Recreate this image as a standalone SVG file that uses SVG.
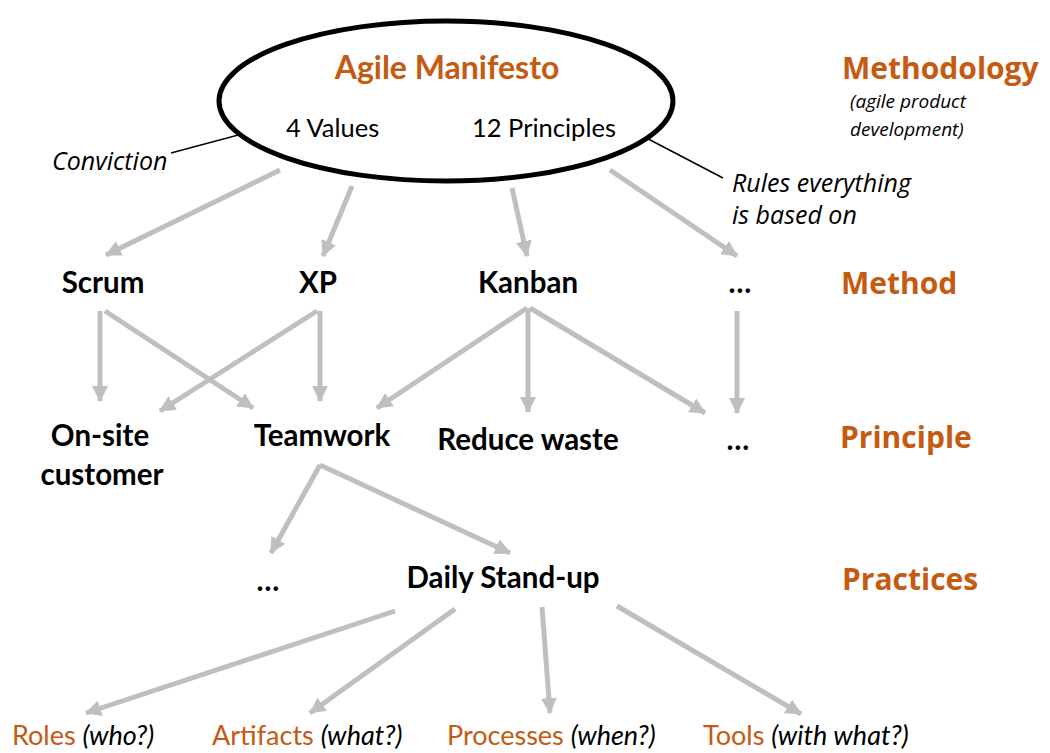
<svg xmlns="http://www.w3.org/2000/svg" width="1050" height="753" viewBox="0 0 1050 753">
<style>
.n{font-family:Lato,"Open Sans",sans-serif;font-weight:bold;font-size:29.5px;fill:#000;text-anchor:middle}
.h{font-family:"Open Sans",sans-serif;font-weight:bold;font-size:30px;fill:#C55A11}
.hl{font-family:Lato,"Open Sans",sans-serif;font-weight:bold;font-size:32px;fill:#C55A11}
.r{font-family:Lato,"Open Sans",sans-serif;font-size:25.5px;fill:#000}
.it{font-family:"Open Sans",sans-serif;font-style:italic;font-size:25px;fill:#000}
.sm{font-family:"Open Sans",sans-serif;font-style:italic;font-size:19px;fill:#000}
.o{font-family:Lato,"Open Sans",sans-serif;font-size:27px;fill:#C55A11}
.oi{font-family:Lato,"Open Sans",sans-serif;font-style:italic;font-size:27px;fill:#000}
.a{stroke:#BFBFBF;stroke-width:5;fill:none;marker-end:url(#ah)}
.c{stroke:#000;stroke-width:1.5;fill:none}
</style>
<defs>
<marker id="ah" markerUnits="userSpaceOnUse" markerWidth="16" markerHeight="16" viewBox="0 0 16 16" refX="15" refY="8" orient="auto">
<path d="M0,0 L16,8 L0,16 Z" fill="#BFBFBF"/>
</marker>
</defs>
<g id="connectors">
<line class="a" x1="280" y1="170" x2="106" y2="255"/>
<line class="a" x1="352" y1="186" x2="323" y2="256"/>
<line class="a" x1="512" y1="188" x2="527" y2="256"/>
<line class="a" x1="610" y1="170" x2="737" y2="256"/>
<line class="a" x1="100" y1="311" x2="100" y2="401"/>
<line class="a" x1="105" y1="311" x2="253" y2="408"/>
<line class="a" x1="317" y1="311" x2="160" y2="411"/>
<line class="a" x1="320" y1="311" x2="320" y2="401"/>
<line class="a" x1="527" y1="308" x2="377" y2="408"/>
<line class="a" x1="528" y1="308" x2="528" y2="412"/>
<line class="a" x1="530" y1="308" x2="705" y2="413"/>
<line class="a" x1="737" y1="311" x2="737" y2="413"/>
<line class="a" x1="320" y1="465" x2="271" y2="553"/>
<line class="a" x1="320" y1="465" x2="510" y2="553"/>
<line class="a" x1="395" y1="611" x2="86" y2="713"/>
<line class="a" x1="455" y1="609" x2="310" y2="713"/>
<line class="a" x1="542" y1="607" x2="550" y2="713"/>
<line class="a" x1="617" y1="606" x2="801" y2="714"/>
<line class="c" x1="171" y1="153" x2="272" y2="126"/>
<line class="c" x1="633" y1="131" x2="723" y2="178"/>
</g>
<g id="manifesto">
<ellipse cx="446" cy="101" rx="227" ry="80" fill="#fff" stroke="#000" stroke-width="5"/>
<text class="hl" x="447" y="79" text-anchor="middle">Agile Manifesto</text>
<text class="r" x="286" y="137">4 Values</text>
<text class="r" x="472" y="137">12 Principles</text>
</g>
<g id="conviction"><text class="it" x="52" y="170">Conviction</text></g>
<g id="rules"><text class="it" x="732" y="192">Rules everything</text><text class="it" x="732" y="224">is based on</text></g>
<g id="methodology">
<text class="h" x="842" y="79" font-size="31">Methodology</text>
<text class="sm" x="850" y="108">(agile product</text>
<text class="sm" x="850" y="136">development)</text>
</g>
<g id="method-label"><text class="h" x="841" y="294">Method</text></g>
<g id="principle-label"><text class="h" x="840" y="448">Principle</text></g>
<g id="practices-label"><text class="h" x="842" y="590">Practices</text></g>
<g id="scrum"><text class="n" x="103" y="293">Scrum</text></g>
<g id="xp"><text class="n" x="318" y="293">XP</text></g>
<g id="kanban"><text class="n" x="528" y="293">Kanban</text></g>
<g id="method-more"><text class="n" x="740" y="293">…</text></g>
<g id="onsite"><text class="n" x="100" y="446">On-site</text><text class="n" x="102" y="485">customer</text></g>
<g id="teamwork"><text class="n" x="322" y="446">Teamwork</text></g>
<g id="reduce"><text class="n" x="528" y="450">Reduce waste</text></g>
<g id="principle-more"><text class="n" x="738" y="450">…</text></g>
<g id="practice-more"><text class="n" x="268" y="591">…</text></g>
<g id="standup"><text class="n" x="503" y="588">Daily Stand-up</text></g>
<g id="roles"><text x="12" y="745"><tspan class="o">Roles </tspan><tspan class="oi">(who?)</tspan></text></g>
<g id="artifacts"><text x="212" y="745"><tspan class="o">Artifacts </tspan><tspan class="oi">(what?)</tspan></text></g>
<g id="processes"><text x="447" y="745"><tspan class="o">Processes </tspan><tspan class="oi">(when?)</tspan></text></g>
<g id="tools"><text x="703" y="745"><tspan class="o">Tools </tspan><tspan class="oi">(with what?)</tspan></text></g>
</svg>
